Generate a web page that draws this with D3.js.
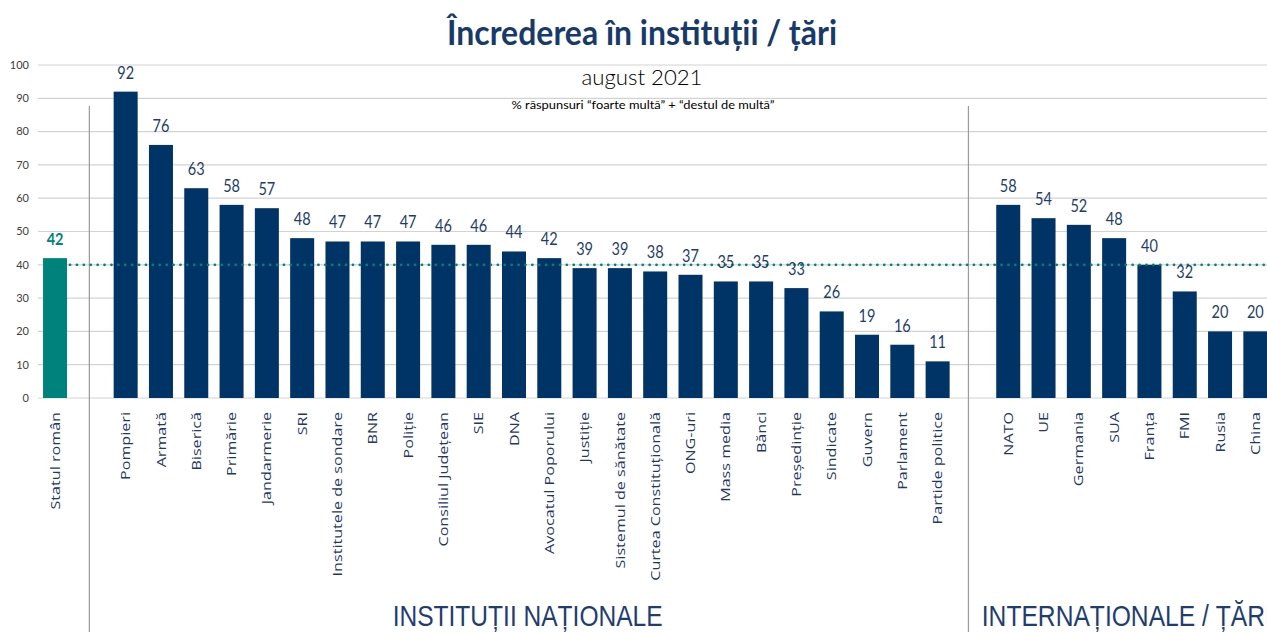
<!DOCTYPE html>
<html><head><meta charset="utf-8">
<script src="https://cdn.jsdelivr.net/npm/d3@7"></script>
<style>
html,body{margin:0;padding:0;background:#fff;}
svg{display:block;}
</style></head>
<body>
<svg id="chart" width="1267" height="632"></svg>
<script>
const refLabel = "Statul român";
const refValue = 42;
const institutions = ["Pompieri","Armată","Biserică","Primărie","Jandarmerie","SRI","Institutele de sondare","BNR","Poliție","Consiliul Județean","SIE","DNA","Avocatul Poporului","Justiție","Sistemul de sănătate","Curtea Constituțională","ONG-uri","Mass media","Bănci","Președinție","Sindicate","Guvern","Parlament","Partide politice"];
const institutionValues = [92,76,63,58,57,48,47,47,47,46,46,44,42,39,39,38,37,35,35,33,26,19,16,11];
const countries = ["NATO","UE","Germania","SUA","Franța","FMI","Rusia","China"];
const countryValues = [58,54,52,48,40,32,20,20];
const yTicks = [0,10,20,30,40,50,60,70,80,90,100];
const thresholdValue = 40;
const titleText = "Încrederea în instituții / țări";
const subtitleText = "august 2021";
const noteText = "% răspunsuri “foarte multă” + “destul de multă”";
const groupLabels = ["INSTITUȚII NAȚIONALE", "INTERNAȚIONALE / ȚĂRI"];

const W = 1267, H = 632;
const svg = d3.select("#chart");
const NAVY = "#003366", TEAL = "#00827c", LABEL = "#1f3864";

const keys = [refLabel, "_gap1", ...institutions, "_gap2", ...countries];
const rows = [{k: refLabel, v: refValue, ref: true}]
  .concat(institutions.map((k,i)=>({k, v: institutionValues[i]})))
  .concat(countries.map((k,i)=>({k, v: countryValues[i]})));

const x = d3.scaleBand().domain(keys).range([37.4, 1273]).paddingInner(0.32).paddingOuter(0.16);
const y = d3.scaleLinear().domain([0,100]).range([398, 65]);
const cx = k => x(k) + x.bandwidth()/2;

// gridlines
svg.append("g").selectAll("line").data(yTicks).join("line")
  .attr("x1", 38).attr("x2", W).attr("y1", d=>y(d)).attr("y2", d=>y(d))
  .attr("stroke", "#d3d3d3").attr("stroke-width", 1.2);

// y tick labels
svg.append("g").selectAll("text").data(yTicks).join("text")
  .attr("x", 29).attr("y", d=>y(d)).attr("dy","0.35em")
  .attr("text-anchor","end").attr("font-family","Lato, sans-serif").attr("font-size", 11)
  .attr("fill","#404040").text(d=>d);

// separators
const sepX = [x("_gap1") + x.bandwidth()/2 - 1, x("_gap2") + x.bandwidth()/2 - 4.5];
svg.append("g").selectAll("line").data(sepX).join("line")
  .attr("x1", d=>d).attr("x2", d=>d).attr("y1", 106).attr("y2", H)
  .attr("stroke","#9a9a9a").attr("stroke-width",1.2);

// title texts
svg.append("text").attr("x", 642).attr("y", 45).attr("text-anchor","middle")
  .attr("font-family","Lato, sans-serif").attr("font-weight","bold").attr("font-size",34)
  .attr("fill","#173a6a").attr("textLength",390).attr("lengthAdjust","spacingAndGlyphs").text(titleText);
svg.append("text").attr("x", 642).attr("y", 85).attr("text-anchor","middle")
  .attr("font-family","Lato, sans-serif").attr("font-weight",300).attr("font-size",22)
  .attr("fill","#000").attr("textLength",121).attr("lengthAdjust","spacingAndGlyphs").text(subtitleText);
svg.append("text").attr("x", 643).attr("y", 109).attr("text-anchor","middle")
  .attr("font-family","Lato, sans-serif").attr("font-size",10.5)
  .attr("fill","#000").attr("textLength",263).attr("lengthAdjust","spacingAndGlyphs").text(noteText);

// bars
svg.append("g").selectAll("rect").data(rows).join("rect")
  .attr("x", d=>x(d.k)).attr("width", x.bandwidth())
  .attr("y", d=>y(d.v)).attr("height", d=>y(0)-y(d.v))
  .attr("fill", d=>d.ref ? TEAL : NAVY);

// threshold dotted line
svg.append("line")
  .attr("x1", x(refLabel)+x.bandwidth()+3).attr("x2", W)
  .attr("y1", y(thresholdValue)).attr("y2", y(thresholdValue))
  .attr("stroke", TEAL).attr("stroke-width", 2.8)
  .attr("stroke-linecap","round").attr("stroke-dasharray","0,6.9");

// value labels
svg.append("g").selectAll("text").data(rows).join("text")
  .attr("transform", d=>`translate(${cx(d.k)},${y(d.v)-13}) scale(0.83,1)`)
  .attr("text-anchor","middle").attr("font-family","Lato, sans-serif").attr("font-size",17.5)
  .attr("font-weight", d=>d.ref ? "bold" : "normal")
  .attr("fill", d=>d.ref ? TEAL : "#1f3d6b").text(d=>d.v);

// category labels
svg.append("g").selectAll("text").data(rows).join("text")
  .attr("transform", d=>`translate(${cx(d.k)},412) rotate(-90) scale(1.26,1)`)
  .attr("dy","0.36em").attr("text-anchor","end")
  .attr("font-family","'Open Sans', sans-serif").attr("font-size",12.8)
  .attr("fill", LABEL).text(d=>d.k);

// group labels (the second one runs past the right edge, as in the original)
const instCenter = (cx(institutions[0]) + cx(institutions[institutions.length-1]))/2;
const ctrCenter = (cx(countries[0]) + cx(countries[countries.length-1]))/2;
svg.append("text").attr("x", instCenter - 4).attr("y", 626).attr("text-anchor","middle")
  .attr("font-family","'Liberation Sans Narrow', 'Liberation Sans', sans-serif").attr("font-size",30)
  .attr("fill","#1f3d70").attr("textLength",270).attr("lengthAdjust","spacingAndGlyphs").text(groupLabels[0]);
svg.append("text").attr("x", ctrCenter - 5).attr("y", 626).attr("text-anchor","middle")
  .attr("font-family","'Liberation Sans Narrow', 'Liberation Sans', sans-serif").attr("font-size",30)
  .attr("fill","#1f3d70").attr("textLength",290).attr("lengthAdjust","spacingAndGlyphs").text(groupLabels[1]);
</script>
</body></html>
